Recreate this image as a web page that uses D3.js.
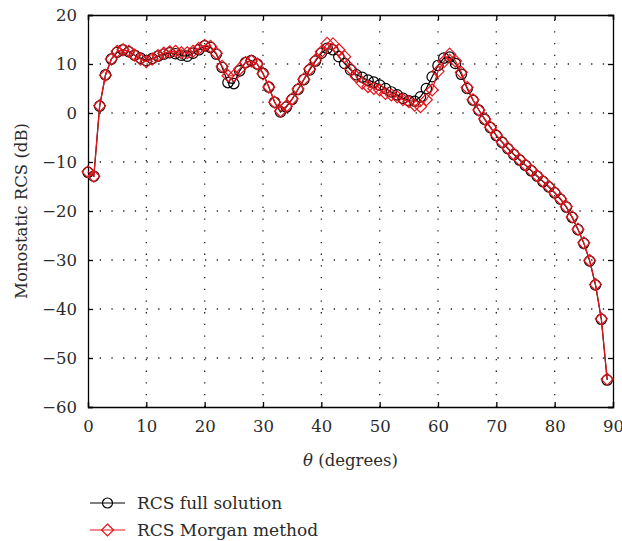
<!DOCTYPE html>
<html>
<head>
<meta charset="utf-8">
<script src="https://cdn.jsdelivr.net/npm/d3@7"></script>
<style>
  html, body { margin: 0; padding: 0; background: #fff; }
  svg text { font-family: "DejaVu Serif", "Liberation Serif", serif; fill: #2b2b2b; }
</style>
</head>
<body>
<svg id="chart" width="622" height="541"></svg>
<script>
// Incidence angle, degrees
const theta = d3.range(0, 90);

// Monostatic RCS (dB) — full solution
const rcsFull = [
  -12.1, -12.9, 1.4, 7.8, 11.0, 12.4, 12.9, 12.5, 11.8, 11.2,
  10.7, 11.1, 11.6, 12.0, 12.3, 12.1, 11.8, 11.6, 12.2, 12.9,
  13.7, 13.4, 12.0, 9.3, 6.2, 6.0, 8.6, 10.3, 10.7, 10.0,
  8.1, 5.3, 2.2, 0.2, 1.2, 2.8, 4.8, 6.8, 8.8, 10.6,
  12.2, 13.2, 12.9, 11.5, 10.1, 8.8, 7.8, 7.3, 6.7, 6.3,
  5.7, 5.0, 4.3, 3.7, 3.0, 2.5, 2.4, 3.3, 5.0, 7.4,
  9.7, 11.2, 11.4, 10.1, 7.9, 5.0, 2.6, 0.6, -1.3, -3.0,
  -4.6, -6.0, -7.3, -8.5, -9.6, -10.7, -11.8, -12.9, -14.0, -15.1,
  -16.3, -17.6, -19.2, -21.3, -23.8, -26.6, -30.2, -35.1, -42.1, -54.5
];

// Monostatic RCS (dB) — Morgan method
const rcsMorgan = [
  -12.0, -12.9, 1.5, 7.7, 11.0, 12.6, 12.9, 12.6, 11.8, 11.0,
  10.5, 11.0, 11.7, 12.2, 12.5, 12.6, 12.3, 12.3, 12.6, 13.2,
  13.8, 13.6, 12.2, 9.5, 7.6, 7.6, 9.0, 10.3, 10.6, 10.0,
  8.0, 5.3, 2.2, 0.4, 1.4, 2.9, 4.9, 6.9, 9.0, 10.8,
  12.5, 14.2, 14.1, 12.9, 11.5, 9.1, 7.4, 6.1, 5.4, 5.0,
  4.7, 4.0, 3.7, 3.3, 2.7, 2.3, 1.6, 1.3, 2.7, 4.7,
  8.5, 10.5, 12.0, 10.6, 8.3, 5.2, 2.7, 0.6, -1.2, -2.9,
  -4.5, -5.9, -7.2, -8.4, -9.5, -10.6, -11.7, -12.8, -13.9, -15.0,
  -16.2, -17.5, -19.1, -21.2, -23.7, -26.5, -30.1, -35.0, -42.0, -54.3
];

const xTicks = [0, 10, 20, 30, 40, 50, 60, 70, 80, 90];
const yTicks = [-60, -50, -40, -30, -20, -10, 0, 10, 20];

const seriesNames = ["RCS full solution", "RCS Morgan method"];
const seriesColors = ["#000000", "#e8141b"];

const svg = d3.select("#chart");
const m = { left: 88, right: 613, top: 15, bottom: 407 };
const fontSize = 16.5;

const x = d3.scaleLinear().domain([0, 90]).range([m.left, m.right]);
const y = d3.scaleLinear().domain([-60, 20]).range([m.bottom, m.top]);

// dotted grid
const grid = svg.append("g").attr("stroke", "#222").attr("stroke-width", 1.3)
  .attr("stroke-dasharray", "1.3,10.4").attr("fill", "none");
grid.selectAll("line.v").data(xTicks.slice(1, -1)).join("line")
  .attr("x1", d => x(d)).attr("x2", d => x(d))
  .attr("y1", m.bottom).attr("y2", m.top);
grid.selectAll("line.h").data(yTicks.slice(1, -1)).join("line")
  .attr("x1", m.left).attr("x2", m.right)
  .attr("y1", d => y(d)).attr("y2", d => y(d));

// axes with inward ticks on all four sides
const tickLen = 5;
const fmt = d => d < 0 ? "\u2212" + Math.abs(d) : String(d);

const axB = svg.append("g").attr("transform", `translate(0,${m.bottom})`)
  .call(d3.axisBottom(x).tickValues(xTicks).tickSize(-tickLen).tickPadding(13).tickFormat(fmt));
const axT = svg.append("g").attr("transform", `translate(0,${m.top})`)
  .call(d3.axisTop(x).tickValues(xTicks).tickSize(-tickLen).tickFormat(""));
const axL = svg.append("g").attr("transform", `translate(${m.left},0)`)
  .call(d3.axisLeft(y).tickValues(yTicks).tickSize(-tickLen).tickPadding(11).tickFormat(fmt));
const axR = svg.append("g").attr("transform", `translate(${m.right},0)`)
  .call(d3.axisRight(y).tickValues(yTicks).tickSize(-tickLen).tickFormat(""));

[axB, axT, axL, axR].forEach(g => {
  g.select(".domain").attr("stroke", "#000").attr("stroke-width", 1.3);
  g.selectAll(".tick line").attr("stroke", "#000").attr("stroke-width", 1.3);
  g.selectAll(".tick text").attr("font-size", fontSize).attr("fill", "#2b2b2b")
    .style("font-family", "'DejaVu Serif', 'Liberation Serif', serif");
});

// series
const line = d3.line().x((d, i) => x(theta[i])).y(d => y(d));
const diamond = (cx, cy, r) => `M${cx},${cy - r}L${cx + r},${cy}L${cx},${cy + r}L${cx - r},${cy}Z`;

svg.append("path").datum(rcsFull).attr("d", line)
  .attr("fill", "none").attr("stroke", seriesColors[0]).attr("stroke-width", 1.2);
svg.append("g").selectAll("circle").data(rcsFull).join("circle")
  .attr("cx", (d, i) => x(theta[i])).attr("cy", d => y(d)).attr("r", 5.2)
  .attr("fill", "none").attr("stroke", seriesColors[0]).attr("stroke-width", 1.2);

svg.append("path").datum(rcsMorgan).attr("d", line)
  .attr("fill", "none").attr("stroke", seriesColors[1]).attr("stroke-width", 1.2);
svg.append("g").selectAll("path").data(rcsMorgan).join("path")
  .attr("d", (d, i) => diamond(x(theta[i]), y(d), 6))
  .attr("fill", "none").attr("stroke", seriesColors[1]).attr("stroke-width", 1.2);

// axis titles
svg.append("text")
  .attr("transform", `translate(27,${(m.top + m.bottom) / 2}) rotate(-90)`)
  .attr("text-anchor", "middle").attr("font-size", fontSize)
  .text("Monostatic RCS (dB)");

const xt = svg.append("text").attr("x", (m.left + m.right) / 2).attr("y", 466)
  .attr("text-anchor", "middle").attr("font-size", fontSize);
xt.append("tspan").attr("font-style", "italic").text("\u03b8");
xt.append("tspan").text(" (degrees)");

// legend
const lg = svg.append("g");
seriesNames.forEach((name, k) => {
  const ly = 503 + k * 27;
  const row = lg.append("g");
  row.append("line").attr("x1", 90).attr("x2", 125).attr("y1", ly).attr("y2", ly)
    .attr("stroke", seriesColors[k]).attr("stroke-width", 1.2);
  if (k === 0) {
    row.append("circle").attr("cx", 107.5).attr("cy", ly).attr("r", 5)
      .attr("fill", "none").attr("stroke", seriesColors[k]).attr("stroke-width", 1.2);
  } else {
    row.append("path").attr("d", diamond(107.5, ly, 6))
      .attr("fill", "none").attr("stroke", seriesColors[k]).attr("stroke-width", 1.2);
  }
  row.append("text").attr("x", 137).attr("y", ly + 6).attr("font-size", 17).text(name);
});
</script>
</body>
</html>
